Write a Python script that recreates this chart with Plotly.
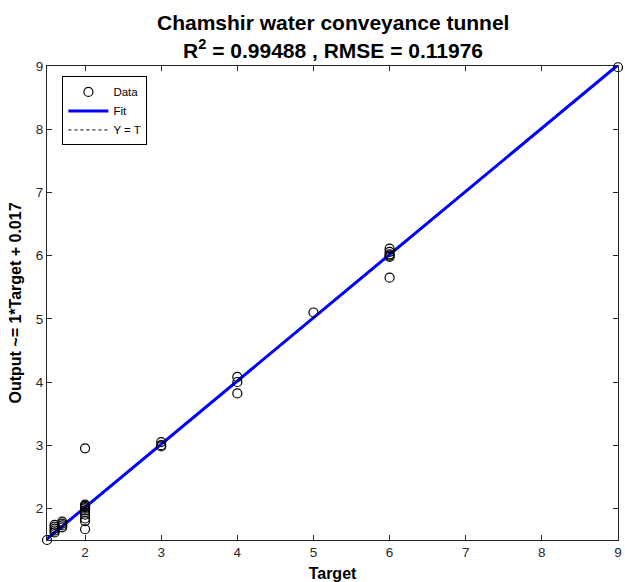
import plotly.graph_objects as go

# Observed targets and network outputs
target = [1.5,
          1.6, 1.6, 1.6, 1.6, 1.6,
          1.7, 1.7, 1.7, 1.7,
          2, 2, 2, 2, 2, 2, 2, 2, 2, 2, 2,
          3, 3, 3,
          4, 4, 4,
          5,
          6, 6, 6, 6, 6, 6,
          9]
output = [1.5,
          1.62, 1.65, 1.68, 1.71, 1.74,
          1.70, 1.73, 1.76, 1.79,
          1.67, 1.80, 1.84, 1.90, 1.94, 1.97, 2.00, 2.02, 2.04, 2.06, 2.95,
          2.98, 3.00, 3.05,
          3.82, 4.00, 4.08,
          5.10,
          5.65, 5.98, 6.00, 6.02, 6.06, 6.11,
          8.98]

# Linear fit: Output ~= slope*Target + intercept
slope = 1.0
intercept = 0.017
line_x = [1.5, 9]
fit_y = [slope * v + intercept for v in line_x]

r2 = 0.99488
rmse = 0.11976

tick_vals = [2, 3, 4, 5, 6, 7, 8, 9]

FONT = "Liberation Sans, Arial, Helvetica, sans-serif"
AX = "#262626"

fig = go.Figure()

fig.add_trace(go.Scatter(
    x=line_x, y=line_x, mode="lines", name="Y = T",
    line=dict(color="black", width=1, dash="dot"), legendrank=3,
))
fig.add_trace(go.Scatter(
    x=line_x, y=fit_y, mode="lines", name="Fit",
    line=dict(color="#0000FF", width=3), legendrank=2,
))
fig.add_trace(go.Scatter(
    x=target, y=output, mode="markers", name="Data",
    marker=dict(symbol="circle-open", size=9, color="black",
                line=dict(width=1.2, color="black")),
    cliponaxis=False, legendrank=1,
))

axis_common = dict(
    range=[1.5, 9], tickvals=tick_vals, ticks="inside", ticklen=5,
    tickcolor=AX, showline=True, linecolor=AX, linewidth=1, mirror="ticks",
    showgrid=False, zeroline=False, ticklabeloverflow="allow",
    tickfont=dict(family=FONT, size=13.5, color=AX),
)

fig.update_xaxes(**axis_common,
                 title=dict(text="<b>Target</b>", standoff=8,
                            font=dict(family=FONT, size=16, color="black")))
fig.update_yaxes(**axis_common,
                 title=dict(text="<b>Output ~= 1*Target + 0.017</b>", standoff=10,
                            font=dict(family=FONT, size=16, color="black")))

fig.add_annotation(
    text="<b>Chamshir water conveyance tunnel</b>",
    xref="paper", yref="paper", x=0.5, y=1.0, yshift=44, showarrow=False,
    xanchor="center", yanchor="middle",
    font=dict(family=FONT, size=21, color="black"),
)
fig.add_annotation(
    text=f"<b>R<sup>2</sup> = {r2} , RMSE = {rmse}</b>",
    xref="paper", yref="paper", x=0.5, y=1.0, yshift=17, showarrow=False,
    xanchor="center", yanchor="middle",
    font=dict(family=FONT, size=21, color="black"),
)

fig.update_layout(
    width=625, height=582,
    margin=dict(l=47, r=3, t=66, b=42),
    paper_bgcolor="white", plot_bgcolor="white",
    showlegend=True,
    legend=dict(
        x=0.027, y=0.978, xanchor="left", yanchor="top",
        bgcolor="white", bordercolor="black", borderwidth=1,
        font=dict(family=FONT, size=11.5, color="black"),
        tracegroupgap=0, itemwidth=40,
    ),
)

fig.write_html("out.html")
